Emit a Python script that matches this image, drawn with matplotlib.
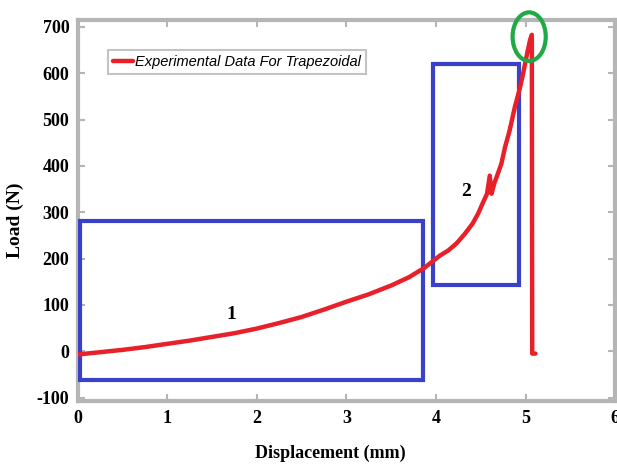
import matplotlib
matplotlib.use("Agg")
import matplotlib.pyplot as plt
from matplotlib.patches import Rectangle, Ellipse

plt.rcParams["axes.unicode_minus"] = False

# Data
disp = [0.0, 0.25, 0.5, 0.75, 1.0, 1.25, 1.5, 1.75, 2.0, 2.25, 2.5, 2.75, 3.0,
        3.25, 3.5, 3.7, 3.87, 4.04, 4.14, 4.23, 4.32, 4.41, 4.47, 4.52, 4.57,
        4.60, 4.62, 4.65, 4.69, 4.73, 4.77, 4.82, 4.88, 4.93, 4.97, 5.02, 5.05, 5.07,
        5.072, 5.074, 5.11]
load = [-7, -2, 3, 9, 16, 23, 31, 39, 49, 61, 74, 90, 107,
        123, 142, 160, 180, 206, 218, 233, 253, 276, 297, 319, 340,
        379, 340, 362, 383, 405, 440, 475, 527, 563, 597, 645, 672, 683,
        300, -5, -5]

box1 = dict(x0=0.03, x1=3.86, y0=-62, y1=281)
box2 = dict(x0=3.97, x1=4.93, y0=144, y1=620)
circle = dict(cx=5.04, cy=679, w=0.37, h=105)
labels = [("1", 1.72, 79), ("2", 4.33, 345)]

xticks = [0, 1, 2, 3, 4, 5, 6]
yticks = [-100, 0, 100, 200, 300, 400, 500, 600, 700]

fig = plt.figure(figsize=(6.17, 4.65), dpi=100)
ax = fig.add_axes([0.126, 0.137, 0.871, 0.82])

serif = "Liberation Serif"
ax.plot(disp, load, color="#e8202a", lw=3.2, solid_capstyle="round",
        solid_joinstyle="round", label="Experimental Data For Trapezoidal", zorder=4)

for b in (box1, box2):
    ax.add_patch(Rectangle((b["x0"], b["y0"]), b["x1"] - b["x0"], b["y1"] - b["y0"],
                           fill=False, edgecolor="#3a40c8", lw=3, zorder=3))

ax.add_patch(Ellipse((circle["cx"], circle["cy"]), circle["w"], circle["h"],
                     fill=False, edgecolor="#1faa45", lw=3, clip_on=False, zorder=5))

for t, x, y in labels:
    ax.text(x, y, t, fontsize=14, fontweight="bold", family=serif,
            ha="center", va="center")

ax.set_xlim(0, 6)
ax.set_ylim(-108, 715)
ax.set_xticks(xticks)
ax.set_yticks(yticks)
ax.tick_params(direction="in", length=5, width=1.5, color="#b5b5b5",
               top=True, right=True, labelsize=13, pad=6)
for lab in ax.get_xticklabels() + ax.get_yticklabels():
    lab.set_fontfamily(serif)
    lab.set_fontweight("bold")
for s in ax.spines.values():
    s.set_color("#b5b5b5")
    s.set_linewidth(3)

ax.set_xlabel("Displacement (mm)", fontsize=13, fontweight="bold", family=serif)
ax.xaxis.set_label_coords(0.47, -0.115)
ax.set_ylabel("Load (N)", fontsize=14, fontweight="bold", family=serif)
ax.yaxis.set_label_coords(-0.1, 0.475)

leg = ax.legend(loc="upper left", bbox_to_anchor=(0.056, 0.921), borderaxespad=0,
                frameon=True, fancybox=False, handlelength=1.4, handletextpad=0.1,
                borderpad=0.35,
                prop={"family": "Liberation Sans", "style": "italic", "size": 10.5})
leg.get_frame().set_edgecolor("#b5b5b5")
leg.get_frame().set_linewidth(1.5)

fig.savefig("out.png", dpi=100)
